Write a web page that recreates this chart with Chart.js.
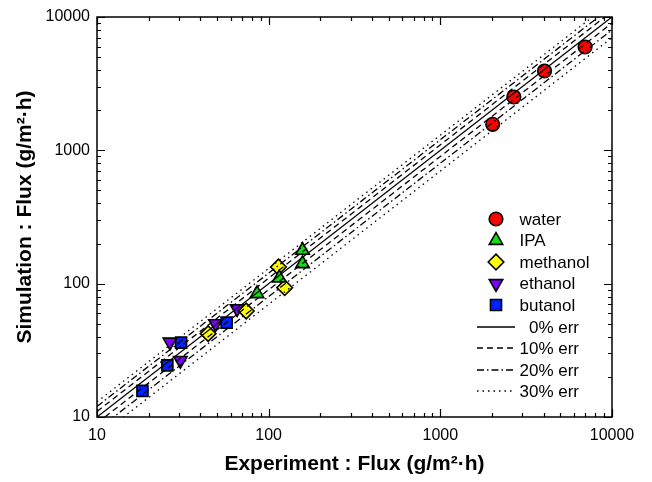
<!DOCTYPE html>
<html>
<head>
<meta charset="utf-8">
<title>Simulation vs Experiment flux</title>
<script src="https://cdn.jsdelivr.net/npm/chart.js@4.4.1/dist/chart.umd.min.js"></script>
<style>
  html, body { margin: 0; padding: 0; background: #fff; }
  #wrap { width: 652px; height: 482px; }
</style>
</head>
<body>
<div id="wrap"><canvas id="fluxChart"></canvas></div>
<script>
'use strict';

// Data (experiment flux vs simulated flux, g/m2.h)
const waterExp = [6970, 4045, 2680, 2018];
const waterSim = [5957, 3936, 2512, 1567];
const ipaExp = [157.5, 157.5, 115.3, 85.5];
const ipaSim = [177.8, 141, 110.3, 84.1];
const methanolExp = [114, 124, 74, 44.4];
const methanolSim = [133.4, 93.3, 62.4, 42.2];
const ethanolExp = [65.5, 49, 26.6, 30.6];
const ethanolSim = [64.9, 50.1, 36.5, 26.6];
const butanolExp = [56.9, 30.9, 25.7, 18.4];
const butanolSim = [51.0, 36.1, 24.4, 15.7];

const seriesNames = ['water', 'IPA', 'methanol', 'ethanol', 'butanol'];

// Reference lines: y = x, and +/- 10, 20, 30 % error
const errPct = [0, 10, 20, 30];
const errLabels = ['0% err', '10% err', '20% err', '30% err'];
const lineEnds = [10, 10000];

const axisTicks = [10, 100, 1000, 10000];

const FONT = "'Liberation Sans', Arial, sans-serif";

// Styles for markers and lines
const markerStyles = [
  { pointStyle: 'circle', radius: 6.8, rotation: 0, color: '#ff0000' },
  { pointStyle: 'triangle', radius: 7.8, rotation: 0, color: '#11dd11' },
  { pointStyle: 'rectRot', radius: 7.8, rotation: 0, color: '#ffff00' },
  { pointStyle: 'triangle', radius: 7.8, rotation: 180, color: '#8000ff' },
  { pointStyle: 'rect', radius: 7.8, rotation: 0, color: '#0022ff' }
];
const errDashes = [[], [6, 4], [7, 3, 1.5, 3], [1.5, 4]];

function pairUp(xs, ys) {
  return xs.map((x, i) => ({ x: x, y: ys[i] }));
}

const scatterSets = [
  [waterExp, waterSim],
  [ipaExp, ipaSim],
  [methanolExp, methanolSim],
  [ethanolExp, ethanolSim],
  [butanolExp, butanolSim]
].map((pair, i) => {
  const m = markerStyles[i];
  return {
    label: seriesNames[i],
    data: pairUp(pair[0], pair[1]),
    showLine: false,
    pointStyle: m.pointStyle,
    pointRadius: m.radius,
    pointRotation: m.rotation,
    pointBackgroundColor: m.color,
    pointBorderColor: '#000',
    pointBorderWidth: 1.6,
    order: 2
  };
});

// Lines go on top of the markers (lower order is drawn last)
const lineSets = [];
errPct.forEach((p, i) => {
  const factors = p === 0 ? [1] : [1 + p / 100, 1 - p / 100];
  factors.forEach(f => {
    lineSets.push({
      label: errLabels[i],
      data: lineEnds.map(v => ({ x: v, y: v * f })),
      showLine: true,
      pointRadius: 0,
      borderColor: '#000',
      borderWidth: 1.3,
      borderDash: errDashes[i],
      order: 1
    });
  });
});

// Inward ticks on all four sides and the black frame
const framePlugin = {
  id: 'frame',
  afterDraw(chart) {
    const ctx = chart.ctx;
    const a = chart.chartArea;
    const xs = chart.scales.x;
    const ys = chart.scales.y;
    ctx.save();
    ctx.strokeStyle = '#000';
    ctx.lineWidth = 1.2;
    ctx.beginPath();
    for (let d = 10; d < 10000; d *= 10) {
      for (let k = 1; k <= 10; k++) {
        const v = d * k;
        const len = (k === 1 || k === 10) ? 8 : 4;
        const px = Math.round(xs.getPixelForValue(v)) + 0.5;
        const py = Math.round(ys.getPixelForValue(v)) + 0.5;
        ctx.moveTo(px, a.bottom); ctx.lineTo(px, a.bottom - len);
        ctx.moveTo(px, a.top); ctx.lineTo(px, a.top + len);
        ctx.moveTo(a.left, py); ctx.lineTo(a.left + len, py);
        ctx.moveTo(a.right, py); ctx.lineTo(a.right - len, py);
      }
    }
    ctx.stroke();
    ctx.lineWidth = 1.5;
    ctx.strokeRect(a.left, a.top, a.right - a.left, a.bottom - a.top);
    ctx.restore();
  }
};

// Legend drawn inside the plot, lower right
const legendPlugin = {
  id: 'insideLegend',
  afterDraw(chart) {
    const ctx = chart.ctx;
    const markerX = 496;
    const textX = 519.5;
    const rowY0 = 219;
    const rowStep = 21.5;
    ctx.save();
    ctx.font = '17px ' + FONT;
    ctx.textBaseline = 'middle';
    ctx.fillStyle = '#000';

    seriesNames.forEach((name, i) => {
      const y = rowY0 + i * rowStep;
      const m = markerStyles[i];
      ctx.save();
      ctx.fillStyle = m.color;
      ctx.strokeStyle = '#000';
      ctx.lineWidth = 1.6;
      Chart.helpers.drawPoint(ctx, {
        pointStyle: m.pointStyle,
        radius: m.radius,
        rotation: m.rotation,
        borderWidth: 1.6
      }, markerX, y);
      ctx.restore();
      ctx.textAlign = 'left';
      ctx.fillText(name, textX, y + 1);
    });

    const errRight = textX + ctx.measureText(errLabels[1]).width;
    errLabels.forEach((label, i) => {
      const y = Math.round(rowY0 + (seriesNames.length + i) * rowStep);
      ctx.save();
      ctx.strokeStyle = '#000';
      ctx.lineWidth = 1.3;
      ctx.setLineDash(errDashes[i]);
      ctx.beginPath();
      ctx.moveTo(477, y);
      ctx.lineTo(515, y);
      ctx.stroke();
      ctx.restore();
      ctx.textAlign = 'right';
      ctx.fillText(label, errRight, y + 1);
    });
    ctx.restore();
  }
};

function majorTicksOnly(scale) {
  scale.ticks = axisTicks.map(v => ({ value: v }));
}

new Chart(document.getElementById('fluxChart'), {
  type: 'scatter',
  data: { datasets: lineSets.concat(scatterSets) },
  options: {
    responsive: true,
    maintainAspectRatio: false,
    animation: false,
    layout: { padding: { top: 17, right: 40, left: 0, bottom: 0 } },
    plugins: {
      legend: { display: false },
      tooltip: { enabled: false }
    },
    scales: {
      x: {
        type: 'logarithmic',
        min: 10,
        max: 10000,
        afterBuildTicks: majorTicksOnly,
        afterFit: s => { s.height = 65; },
        grid: { display: false, drawTicks: false },
        border: { display: false },
        ticks: {
          padding: 9,
          color: '#000',
          font: { family: FONT, size: 16 },
          maxRotation: 0,
          callback: v => String(v)
        },
        title: {
          display: true,
          text: 'Experiment : Flux (g/m²·h)',
          color: '#000',
          font: { family: FONT, size: 21, weight: 'bold' },
          padding: { top: 0, bottom: 5 }
        }
      },
      y: {
        type: 'logarithmic',
        min: 10,
        max: 10000,
        afterBuildTicks: majorTicksOnly,
        afterFit: s => { s.width = 97; },
        grid: { display: false, drawTicks: false },
        border: { display: false },
        ticks: {
          padding: 7,
          color: '#000',
          font: { family: FONT, size: 16 },
          callback: v => String(v)
        },
        title: {
          display: true,
          text: 'Simulation : Flux (g/m²·h)',
          color: '#000',
          font: { family: FONT, size: 21, weight: 'bold' },
          padding: { top: 13, bottom: 0 }
        }
      }
    }
  },
  plugins: [framePlugin, legendPlugin]
});
</script>
</body>
</html>
